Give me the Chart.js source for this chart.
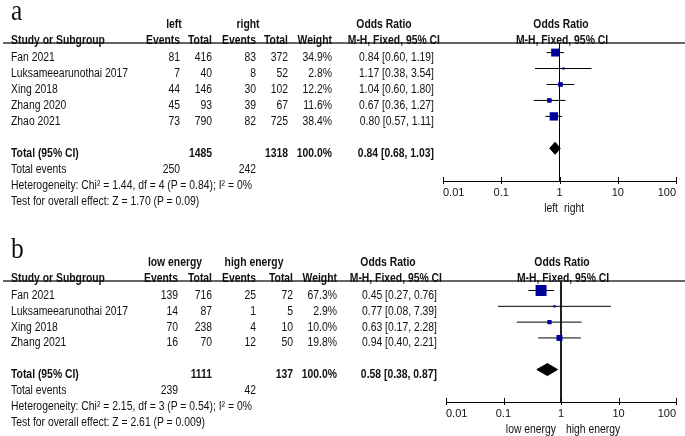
<!DOCTYPE html>
<html>
<head>
<meta charset="utf-8">
<script src="https://cdn.jsdelivr.net/npm/chart.js@4.4.1/dist/chart.umd.min.js"></script>
<style>
  body { margin: 0; background: #fff; }
  #page { position: relative; width: 685px; height: 436px; overflow: hidden; }
  .panel { position: absolute; left: 0; width: 685px; height: 218px; }
  .panel canvas { position: absolute; left: 0; top: 0; }
  .t { position: absolute; white-space: nowrap; line-height: 16px; height: 16px; color: #111; transform-origin: 0 0; }
  .b { font-weight: bold; }
  .tag { position: absolute; left: 11px; font-family: "Liberation Serif", "Times New Roman", serif; font-size: 30px; line-height: 30px; transform: scaleX(0.85); transform-origin: 0 0; color: #111; }
</style>
</head>
<body>
<div id="page">
  <div class="panel" id="panelA" style="top:0"><canvas id="chartA" width="685" height="218"></canvas></div>
  <div class="panel" id="panelB" style="top:218px"><canvas id="chartB" width="685" height="218"></canvas></div>
</div>
<script>
// ---- panel a: left vs right
const studiesA = ["Fan 2021", "Luksameearunothai 2017", "Xing 2018", "Zhang 2020", "Zhao 2021"];
const eventsLeft = [81, 7, 44, 45, 73];
const totalLeft = [416, 40, 146, 93, 790];
const eventsRight = [83, 8, 30, 39, 82];
const totalRight = [372, 52, 102, 67, 725];
const weightA = [34.9, 2.8, 12.2, 11.6, 38.4];
const orA = [0.84, 1.17, 1.04, 0.67, 0.80];
const loA = [0.60, 0.38, 0.60, 0.36, 0.57];
const hiA = [1.19, 3.54, 1.80, 1.27, 1.11];
const pooledA = [0.84, 0.68, 1.03];
const hetA = "Heterogeneity: Chi² = 1.44, df = 4 (P = 0.84); I² = 0%";
const testA = "Test for overall effect: Z = 1.70 (P = 0.09)";

// ---- panel b: low energy vs high energy
const studiesB = ["Fan 2021", "Luksameearunothai 2017", "Xing 2018", "Zhang 2021"];
const eventsLow = [139, 14, 70, 16];
const totalLow = [716, 87, 238, 70];
const eventsHigh = [25, 1, 4, 12];
const totalHigh = [72, 5, 10, 50];
const weightB = [67.3, 2.9, 10.0, 19.8];
const orB = [0.45, 0.77, 0.63, 0.94];
const loB = [0.27, 0.08, 0.17, 0.40];
const hiB = [0.76, 7.39, 2.28, 2.21];
const pooledB = [0.58, 0.38, 0.87];
const hetB = "Heterogeneity: Chi² = 2.15, df = 3 (P = 0.54); I² = 0%";
const testB = "Test for overall effect: Z = 2.61 (P = 0.009)";

const xTicks = [0.01, 0.1, 1, 10, 100];

// narrow sans if installed, otherwise squeeze the regular one
function hasFont(name) {
  const c = document.createElement("canvas").getContext("2d");
  const s = "Luksameearunothai 2017";
  c.font = "40px monospace";
  const a = c.measureText(s).width;
  c.font = '40px "' + name + '", monospace';
  return c.measureText(s).width !== a;
}
const narrow = hasFont("Liberation Sans Narrow");
const family = narrow ? '"Liberation Sans Narrow"' : '"Liberation Sans", Arial';
const squeeze = narrow ? 1 : 0.83;

const fmt = v => v.toFixed(2);
const sum = a => a.reduce((s, v) => s + v, 0);

const extras = {
  id: "extras",
  afterDraw(chart) {
    const ctx = chart.ctx, area = chart.chartArea, xs = chart.scales.x;
    ctx.save();
    ctx.strokeStyle = "#000";
    ctx.lineWidth = 1;
    ctx.beginPath();
    xs.ticks.forEach(t => {
      const px = Math.round(xs.getPixelForValue(t.value)) + 0.5;
      ctx.moveTo(px, area.bottom - 4);
      ctx.lineTo(px, area.bottom + 3);
    });
    ctx.stroke();
    // rule under the headers
    ctx.strokeStyle = "#333";
    ctx.lineWidth = 1.5;
    ctx.beginPath();
    ctx.moveTo(3, area.top);
    ctx.lineTo(chart.width, area.top);
    ctx.stroke();
    ctx.restore();
  }
};

function put(panel, text, x, y, align, bold) {
  const s = document.createElement("span");
  s.className = "t" + (bold ? " b" : "");
  s.textContent = text;
  s.style.fontFamily = family;
  s.style.fontSize = "12.5px";
  s.style.left = x + "px";
  s.style.top = (y - 8) + "px";
  const shift = align === "right" ? " translateX(-100%)" : align === "center" ? " translateX(-50%)" : "";
  s.style.transform = "scaleX(" + squeeze + ")" + shift;
  panel.appendChild(s);
}

function forest(p) {
  const n = p.studies.length;
  const rows = p.studies.map((_, i) => i + 1);
  const totalRow = n + 2;
  const yMin = 0.4, yMax = n + 4.05;

  const datasets = [];
  datasets.push({
    data: rows.map((r, i) => ({ x: p.or[i], y: r })),
    pointStyle: "rect",
    pointRadius: p.weight.map(w => 1.34 * Math.sqrt(w) / Math.SQRT2),
    pointBorderWidth: 0,
    backgroundColor: "#00009a",
    order: 0
  });
  const h = 0.38;
  datasets.push({
    data: [
      { x: p.pooled[1], y: totalRow }, { x: p.pooled[0], y: totalRow - h },
      { x: p.pooled[2], y: totalRow }, { x: p.pooled[0], y: totalRow + h },
      { x: p.pooled[1], y: totalRow }
    ],
    showLine: true, fill: "shape", pointRadius: 0,
    borderColor: "#000", backgroundColor: "#000", borderWidth: 1, order: 0
  });
  rows.forEach((r, i) => {
    datasets.push({
      data: [{ x: p.lo[i], y: r }, { x: p.hi[i], y: r }],
      showLine: true, pointRadius: 0, borderColor: "#000", borderWidth: 1, order: 1
    });
  });
  datasets.push({
    data: [{ x: 1, y: yMin }, { x: 1, y: yMax }],
    showLine: true, pointRadius: 0, borderColor: "#000", borderWidth: 1, order: 2
  });

  const chart = new Chart(document.getElementById(p.canvas), {
    type: "scatter",
    data: { datasets },
    options: {
      responsive: false,
      animation: false,
      devicePixelRatio: 1,
      events: [],
      layout: { padding: { left: p.padLeft, right: 9, top: p.top, bottom: 0 } },
      plugins: { legend: { display: false }, tooltip: { enabled: false } },
      scales: {
        x: {
          type: "logarithmic", min: 0.01, max: 100,
          afterBuildTicks: s => { s.ticks = xTicks.map(v => ({ value: v })); },
          afterFit: s => { s.height = p.axisH; },
          grid: { drawOnChartArea: false, drawTicks: false },
          border: { color: "#000", width: 1 },
          ticks: {
            color: "#111", padding: 5, autoSkip: false, maxRotation: 0, align: "inner",
            font: { family: family, size: narrow ? 12.5 : 11 },
            callback: v => String(v)
          }
        },
        y: { type: "linear", display: false, reverse: true, min: yMin, max: yMax }
      }
    },
    plugins: [extras]
  });

  const panel = document.getElementById(p.el);
  const ys = chart.scales.y, xs = chart.scales.x;
  const hy = r => ys.getPixelForValue(r) + 3;
  const ty = r => ys.getPixelForValue(r) + 4.5;
  const c = p.cols;

  const tag = document.createElement("div");
  tag.className = "tag";
  tag.textContent = p.tag;
  tag.style.top = p.tagTop + "px";
  panel.appendChild(tag);

  // headers
  put(panel, p.groups[0], p.groupCenters[0], hy(-1), "center", true);
  put(panel, p.groups[1], p.groupCenters[1], hy(-1), "center", true);
  put(panel, "Odds Ratio", p.orHeadCenter, hy(-1), "center", true);
  put(panel, "Odds Ratio", p.plotHead, hy(-1), "center", true);
  put(panel, "Study or Subgroup", 11, hy(0), "left", true);
  ["Events", "Total", "Events", "Total", "Weight"].forEach((s, i) => put(panel, s, c[i], hy(0), "right", true));
  put(panel, "M-H, Fixed, 95% CI", p.orHeadRight, hy(0), "right", true);
  put(panel, "M-H, Fixed, 95% CI", p.plotHead + 1, hy(0), "center", true);

  // study rows
  rows.forEach((r, i) => {
    const y = ty(r);
    put(panel, p.studies[i], 11, y, "left");
    put(panel, String(p.e1[i]), c[0], y, "right");
    put(panel, String(p.n1[i]), c[1], y, "right");
    put(panel, String(p.e2[i]), c[2], y, "right");
    put(panel, String(p.n2[i]), c[3], y, "right");
    put(panel, p.weight[i].toFixed(1) + "%", c[4], y, "right");
    put(panel, fmt(p.or[i]) + " [" + fmt(p.lo[i]) + ", " + fmt(p.hi[i]) + "]", p.orRight, y, "right");
  });

  // totals
  let y = ty(totalRow);
  put(panel, "Total (95% CI)", 11, y, "left", true);
  put(panel, String(sum(p.n1)), c[1], y, "right", true);
  put(panel, String(sum(p.n2)), c[3], y, "right", true);
  put(panel, "100.0%", c[4], y, "right", true);
  put(panel, fmt(p.pooled[0]) + " [" + fmt(p.pooled[1]) + ", " + fmt(p.pooled[2]) + "]", p.orRight, y, "right", true);
  y = ty(totalRow + 1);
  put(panel, "Total events", 11, y, "left");
  put(panel, String(sum(p.e1)), c[0], y, "right");
  put(panel, String(sum(p.e2)), c[2], y, "right");
  put(panel, p.het, 11, ty(totalRow + 2), "left");
  put(panel, p.test, 11, ty(totalRow + 3), "left");

  // favours labels either side of the null line
  const x1 = xs.getPixelForValue(1);
  const ly = chart.chartArea.bottom + 27;
  put(panel, p.sides[0], x1 - p.sideGap[0], ly, "right");
  put(panel, p.sides[1], x1 + p.sideGap[1], ly, "left");
}

forest({
  el: "panelA", canvas: "chartA", tag: "a", tagTop: -5,
  groups: ["left", "right"], sides: ["left", "right"], sideGap: [2, 4],
  studies: studiesA, e1: eventsLeft, n1: totalLeft, e2: eventsRight, n2: totalRight,
  weight: weightA, or: orA, lo: loA, hi: hiA, pooled: pooledA, het: hetA, test: testA,
  padLeft: 443, top: 43, axisH: 37,
  cols: [180, 212, 256, 288, 332], orRight: 434, orHeadRight: 440, orHeadCenter: 384,
  groupCenters: [174, 248], plotHead: 561
});

forest({
  el: "panelB", canvas: "chartB", tag: "b", tagTop: 15,
  groups: ["low energy", "high energy"], sides: ["low energy", "high energy"], sideGap: [5, 5],
  studies: studiesB, e1: eventsLow, n1: totalLow, e2: eventsHigh, n2: totalHigh,
  weight: weightB, or: orB, lo: loB, hi: hiB, pooled: pooledB, het: hetB, test: testB,
  padLeft: 446, top: 63, axisH: 34,
  cols: [178, 212, 256, 293, 337], orRight: 437, orHeadRight: 442, orHeadCenter: 388,
  groupCenters: [175, 254], plotHead: 562
});
</script>
</body>
</html>
